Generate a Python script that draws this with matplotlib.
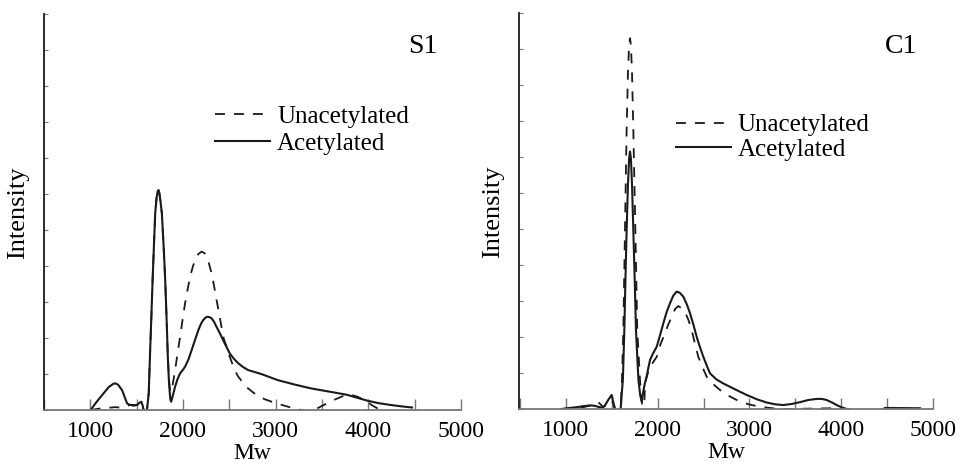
import matplotlib
matplotlib.use("Agg")
import matplotlib.pyplot as plt

# ---------------- data ----------------
# S1 panel, Acetylated (solid)
s1_acet_x = [1003, 1060, 1129, 1200, 1250, 1271, 1300, 1343, 1375, 1397, 1432,
             1470, 1504, 1530, 1551, 1565, 1575, 1595, 1611, 1630, 1647, 1660,
             1672, 1686, 1700, 1715, 1727, 1736, 1745, 1757, 1772, 1790, 1808,
             1822, 1836, 1850, 1863, 1872, 1885, 1900, 1915, 1940, 1969, 2000,
             2022, 2058, 2094, 2130, 2166, 2195, 2219, 2240, 2262, 2285, 2308,
             2335, 2362, 2400, 2433, 2470, 2505, 2550, 2595, 2650, 2702, 2844,
             3023, 3200, 3381, 3580, 3774, 3880, 3988, 4110, 4240, 4360, 4472]
s1_acet_y = [0.0, 0.2, 0.42, 0.64, 0.73, 0.74, 0.7, 0.55, 0.33, 0.18, 0.14,
             0.12, 0.14, 0.2, 0.23, 0.12, 0.0, -0.3, 0.0, 0.46, 1.76, 2.7,
             3.61, 4.55, 5.46, 5.9, 6.08, 6.11, 6.02, 5.8, 5.46, 4.6, 3.61,
             2.6, 1.5, 0.7, 0.3, 0.23, 0.35, 0.5, 0.65, 0.85, 1.02, 1.12,
             1.2, 1.4, 1.67, 1.95, 2.22, 2.4, 2.5, 2.56, 2.59, 2.58, 2.55,
             2.45, 2.31, 2.12, 1.94, 1.75, 1.57, 1.42, 1.3, 1.19, 1.11, 1.0,
             0.83, 0.71, 0.6, 0.51, 0.42, 0.34, 0.26, 0.19, 0.14, 0.1, 0.07]

# S1 panel, Unacetylated (dashed)
s1_unac_x = [1003, 1100, 1190, 1271, 1343, 1397, 1432, 1504, 1530, 1551, 1565,
             1575, 1595, 1611, 1630, 1647, 1660, 1672, 1686, 1700, 1715, 1727,
             1736, 1745, 1757, 1772, 1790, 1808, 1822, 1836, 1850, 1863, 1879,
             1895, 1915, 1940, 1969, 1995, 2022, 2050, 2076, 2105, 2130, 2165,
             2201, 2230, 2255, 2280, 2308, 2335, 2362, 2390, 2415, 2440, 2469,
             2495, 2523, 2560, 2595, 2650, 2702, 2791, 2880, 2990, 3094, 3190,
             3273, 3340, 3416, 3490, 3559, 3620, 3666, 3720, 3774, 3830, 3881,
             3940, 3988, 4040, 4095, 4130]
s1_unac_y = [0.0, 0.04, 0.06, 0.08, 0.06, 0.12, 0.14, 0.14, 0.18, 0.2, 0.1,
             0.0, -0.3, 0.0, 0.46, 1.76, 2.7, 3.61, 4.55, 5.46, 5.9, 6.08,
             6.11, 6.02, 5.8, 5.46, 4.6, 3.61, 2.6, 1.5, 0.8, 0.5, 0.56,
             0.8, 1.11, 1.55, 2.04, 2.5, 2.96, 3.35, 3.7, 3.97, 4.17, 4.33,
             4.4, 4.36, 4.26, 4.07, 3.8, 3.45, 3.06, 2.68, 2.31, 1.98, 1.76,
             1.55, 1.35, 1.1, 0.93, 0.75, 0.6, 0.42, 0.3, 0.2, 0.12, 0.05,
             0.0, -0.03, 0.0, 0.1, 0.19, 0.27, 0.32, 0.38, 0.42, 0.41, 0.37,
             0.3, 0.23, 0.13, 0.05, 0.0]

# C1 panel, Acetylated (solid)
c1_acet_x = [953, 1040, 1117, 1190, 1262, 1310, 1352, 1390, 1420, 1460, 1498,
             1515, 1534, 1565, 1596, 1610, 1620, 1636, 1648, 1661, 1675, 1688,
             1698, 1708, 1720, 1734, 1750, 1763, 1777, 1790, 1808, 1825, 1840,
             1860, 1879, 1898, 1916, 1950, 1989, 2025, 2061, 2098, 2134, 2170,
             2206, 2240, 2279, 2315, 2352, 2390, 2425, 2460, 2497, 2535, 2570,
             2640, 2714, 2840, 2969, 3080, 3187, 3280, 3368, 3460, 3550, 3640,
             3733, 3790, 3841, 3900, 3950, 4010, 4059, 4250, 4455, 4480, 4860]
c1_acet_y = [0.0, 0.03, 0.05, 0.08, 0.1, 0.09, 0.06, 0.04, 0.08, 0.25, 0.39,
             0.2, 0.0, -0.3, 0.0, 0.5, 0.8, 2.19, 3.6, 4.97, 6.2, 6.95,
             7.15, 6.95, 6.2, 4.97, 3.5, 2.19, 1.45, 0.8, 0.4, 0.2, 0.45,
             0.72, 0.9, 1.15, 1.36, 1.55, 1.73, 2.05, 2.38, 2.7, 2.94, 3.15,
             3.26, 3.23, 3.12, 2.92, 2.66, 2.33, 2.0, 1.72, 1.45, 1.2, 0.99,
             0.82, 0.71, 0.55, 0.39, 0.27, 0.18, 0.13, 0.11, 0.14, 0.19, 0.25,
             0.28, 0.28, 0.25, 0.18, 0.11, 0.04, 0.0, -0.2, 0.0, 0.03, 0.02]

# C1 panel, Unacetylated (dashed)
c1_unac_x = [953, 1100, 1189, 1270, 1352, 1380, 1407, 1450, 1498, 1520, 1534,
             1565, 1596, 1610, 1625, 1643, 1661, 1675, 1688, 1698, 1708, 1720,
             1734, 1756, 1777, 1807, 1822, 1836, 1848, 1856, 1861, 1890, 1916,
             1950, 1989, 2030, 2079, 2115, 2152, 2190, 2224, 2260, 2297, 2335,
             2370, 2405, 2442, 2490, 2533, 2600, 2678, 2770, 2861, 2990, 3114,
             3250, 3405, 3900, 4100]
c1_unac_y = [0.0, 0.03, 0.05, 0.1, 0.19, 0.12, 0.05, 0.15, 0.25, 0.12, 0.0,
             -0.3, 0.0, 0.8, 2.19, 4.97, 7.75, 9.3, 10.1, 10.3, 10.1, 9.3,
             7.75, 4.97, 2.19, 0.8, 0.3, 0.0, -0.2, 0.3, 0.71, 0.98, 1.17,
             1.3, 1.45, 1.8, 2.1, 2.35, 2.56, 2.78, 2.86, 2.8, 2.7, 2.47,
             2.19, 1.82, 1.45, 1.15, 0.9, 0.7, 0.53, 0.37, 0.25, 0.13, 0.06,
             0.02, 0.0, 0.02, 0.0]

panel_labels = ["S1", "C1"]
series_labels = ["Unacetylated", "Acetylated"]
xticks_major = [1000, 2000, 3000, 4000, 5000]
xticks_minor = [500, 1500, 2500, 3500, 4500]
yticks = list(range(0, 12))

# ---------------- figure ----------------
plt.rcParams['font.family'] = ['Liberation Serif', 'DejaVu Serif']
fig = plt.figure(figsize=(9.6, 4.69), dpi=100)

W, H = 960.0, 469.0
# axes boxes in pixels: (left, right, bottom, top)
boxes = [(44, 461, 410, 14), (519, 933, 409, 13)]
xlims = [(528, 5000), (488, 5000)]
legend_pos = [(0.41, 0.770), (0.379, 0.745)]
legend_spacing = [0.19, 0.07]
tag_pos = [(0.873, 0.902), (0.884, 0.899)]
data = [((s1_unac_x, s1_unac_y), (s1_acet_x, s1_acet_y)),
        ((c1_unac_x, c1_unac_y), (c1_acet_x, c1_acet_y))]

for i in range(2):
    l, r, b, t = boxes[i]
    ax = fig.add_axes([l / W, (H - b) / H, (r - l) / W, (b - t) / H])
    (ux, uy), (sx, sy) = data[i]
    h1, = ax.plot(ux, uy, color='#1a1a1a', lw=1.3, ls=(0, (5.5, 5.0)),
                  label=series_labels[0])
    h2, = ax.plot(sx, sy, color='#1a1a1a', lw=1.5, ls='-',
                  label=series_labels[1])
    ax.set_xlim(*xlims[i])
    ax.set_ylim(0, 11)
    ax.set_xticks(xticks_major)
    ax.set_xticks(xticks_minor, minor=True)
    ax.set_yticks(yticks)
    ax.set_yticklabels([])
    ax.tick_params(axis='x', which='both', direction='in', length=8,
                   width=1.0, color='#777777', labelsize=17, pad=8)
    ax.tick_params(axis='y', which='both', direction='in', length=3,
                   width=0.8, color='#777777')
    for s in ('top', 'right'):
        ax.spines[s].set_visible(False)
    ax.spines['left'].set_color('#1a1a1a')
    ax.spines['left'].set_linewidth(1.3)
    ax.spines['bottom'].set_color('#777777')
    ax.spines['bottom'].set_linewidth(1.3)
    ax.set_xlabel('Mw', fontsize=17)
    ax.xaxis.set_label_coords(0.5, -0.083)
    ax.set_ylabel('Intensity', fontsize=19)
    ax.yaxis.set_label_coords(-0.036, 0.497)
    ax.text(tag_pos[i][0], tag_pos[i][1], panel_labels[i], transform=ax.transAxes,
            fontsize=20, ha='left', va='baseline')
    ax.legend(handles=[h1, h2], loc='upper left', bbox_to_anchor=legend_pos[i],
              frameon=False, fontsize=18, handlelength=2.2, handletextpad=0.28,
              labelspacing=legend_spacing[i], borderpad=0, borderaxespad=0)

fig.savefig('out.png', dpi=100)
